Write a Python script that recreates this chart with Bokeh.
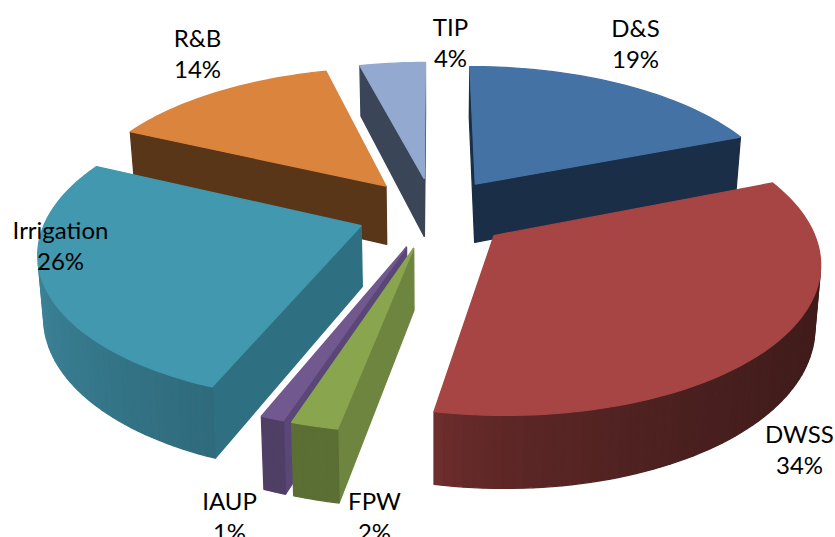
import math

from bokeh.core.properties import value
from bokeh.embed import file_html
from bokeh.models import ColumnDataSource, Range1d
from bokeh.plotting import figure
from bokeh.resources import INLINE

# Budget shares, clockwise from twelve o'clock
categories = ["D&S", "DWSS", "FPW", "IAUP", "Irrigation", "R&B", "TIP"]
shares = [19, 34, 2, 1, 26, 14, 4]

# Colours per sector: top face, cut face, outer wall at left and at right
top_colors = ["#4472A5", "#A64543", "#89A54E", "#71588F", "#4198AF", "#DB843D", "#93A9CF"]
cut_colors = ["#1B2E47", "#6A2B2A", "#6E853F", "#5A4677", "#2E7082", "#5A3618", "#3A4558"]
wall_left = ["#1B2E47", "#6E2E2D", "#5B6E34", "#4F3F65", "#3C8399", "#5A3618", "#3A4558"]
wall_right = ["#1B2E47", "#401C1B", "#5B6E34", "#4F3F65", "#2F6B7C", "#5A3618", "#3A4558"]

# Projection of the exploded pie onto the page
CX, CY = 433.0, 212.0
SCALE_X, SCALE_Y = 313.0, 144.0
PERSPECTIVE = 0.155
EXPLODE = 0.245
DEPTH = 60.0
TAPER = 0.985


def project(x, y, drop=0.0):
    w = 1.0 - PERSPECTIVE * y
    sx = CX + SCALE_X * x / w
    if drop:
        sx = CX + (sx - CX) * TAPER
    return sx, CY + (SCALE_Y * y + drop) / w


def hex_rgb(code):
    return tuple(int(code[i:i + 2], 16) for i in (1, 3, 5))


def mix(a, b, t):
    ca, cb = hex_rgb(a), hex_rgb(b)
    return "#%02x%02x%02x" % tuple(round(p + (q - p) * t) for p, q in zip(ca, cb))


def orientation(pts):
    return sum(
        pts[i][0] * pts[(i + 1) % len(pts)][1] - pts[(i + 1) % len(pts)][0] * pts[i][1]
        for i in range(len(pts))
    )


def quad(p, q):
    return [project(*p), project(*q), project(*q, DEPTH), project(*p, DEPTH)]


total = sum(shares)
sectors = []
start = 0.0
for i, share in enumerate(shares):
    sweep = 360.0 * share / total
    mid = math.radians(start + sweep / 2)
    ox, oy = EXPLODE * math.sin(mid), -EXPLODE * math.cos(mid)
    steps = max(2, int(sweep / 1.5))
    rim = []
    for k in range(steps + 1):
        a = math.radians(start + sweep * k / steps)
        rim.append((ox + math.sin(a), oy - math.cos(a)))
    sectors.append(dict(index=i, apex=(ox, oy), rim=rim, order=oy + 0.5 * sum(r[1] for r in rim) / len(rim)))
    start += sweep

xs, ys, colors = [], [], []


def emit(poly, color):
    xs.append([p[0] for p in poly])
    ys.append([p[1] for p in poly])
    colors.append(color)


for sector in sorted(sectors, key=lambda s: s["order"]):
    i, apex, rim = sector["index"], sector["apex"], sector["rim"]
    faces = []
    for p, q in [(apex, rim[0]), (rim[-1], apex)]:
        poly = quad(p, q)
        if orientation(poly) < 0:
            faces.append(((p[1] + q[1]) / 2, poly, cut_colors[i]))
    strips = [quad(rim[k], rim[k + 1]) for k in range(len(rim) - 1)]
    strips = [s for s in strips if orientation(s) < 0]
    if strips:
        lo = min(s[0][0] for s in strips)
        hi = max(s[0][0] for s in strips)
        for s in strips:
            t = (s[0][0] - lo) / max(hi - lo, 1.0)
            depth_key = (s[0][1] + s[1][1]) / 2
            faces.append((1000.0 + depth_key, s, mix(wall_left[i], wall_right[i], t ** 0.6)))
    for _, poly, color in sorted(faces, key=lambda f: f[0]):
        emit(poly, color)
    emit([project(*apex)] + [project(*r) for r in rim], top_colors[i])

p = figure(
    width=835,
    height=537,
    x_range=Range1d(0, 835),
    y_range=Range1d(537, 0),
    output_backend="svg",
    toolbar_location=None,
    min_border=0,
)
p.axis.visible = False
p.grid.visible = False
p.outline_line_color = None
p.background_fill_color = "white"

p.patches(
    "x", "y",
    source=ColumnDataSource(dict(x=xs, y=ys, color=colors)),
    fill_color="color",
    line_color="color",
    line_width=1.3,
)

# Two-line callouts: the category name over its percentage
label_x = [635, 799, 374, 229, 60, 197, 450]
label_y = [27, 433, 500, 500, 229, 37, 26]
LINE_GAP = 31
p.text(
    x=label_x * 2,
    y=label_y + [y + LINE_GAP for y in label_y],
    text=categories + [f"{s}%" for s in shares],
    text_font=value("Lato"),
    text_font_size="24px",
    text_color="black",
    text_align="center",
    text_baseline="middle",
)

open("out.html", "w").write(file_html(p, INLINE))
